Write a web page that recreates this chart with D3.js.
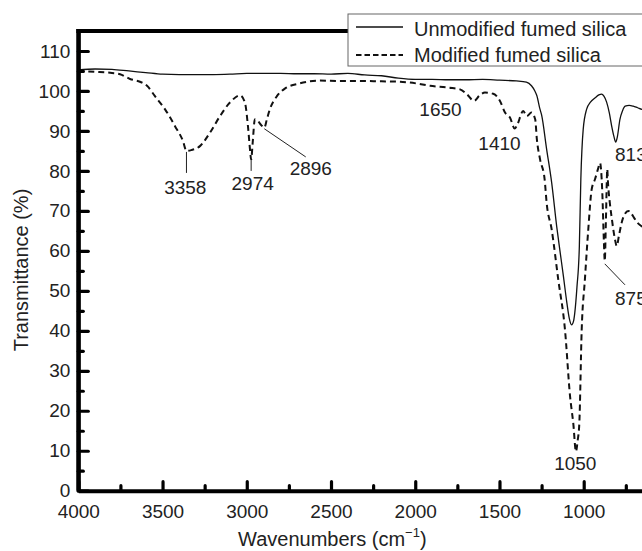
<!DOCTYPE html>
<html><head><meta charset="utf-8">
<script src="https://cdn.jsdelivr.net/npm/d3@7"></script>
<style>
html,body{margin:0;padding:0;background:#fff;}
svg{display:block;font-family:"Liberation Sans",Arial,sans-serif;}
</style></head>
<body><svg id="c" width="642" height="551"></svg>
<script>
// ---- Data (wavenumber cm-1, transmittance %) ----
const unmodWave = [4000,3900,3800,3700,3600,3500,3400,3300,3200,3100,3000,2900,2800,2700,2600,2500,2400,2300,2200,2100,2000,1900,1800,1700,1600,1500,1400,1340,1310,1290,1278,1260,1250,1220,1190,1160,1141,1120,1100,1085,1072,1060,1053,1040,1026,1017,1003,983,960,932,910,894,880,864,848,834,820,810,800,785,770,754,730,706,680,654,640];
const unmodT    = [105.3,105.5,105.4,105.0,104.6,104.2,104.1,104.1,104.1,104.2,104.4,104.4,104.4,104.3,104.3,104.2,104.4,104.0,103.8,103.2,102.9,102.9,102.8,102.8,102.9,102.7,102.5,102.2,101.3,100.0,98.8,95.5,94.0,85.4,77.0,66.0,60.0,53.5,47.0,43.0,41.5,42.5,44.5,51.0,61.0,78.0,90.4,95.4,97.2,98.3,99.0,99.2,98.7,97.2,94.5,91.2,88.5,87.2,88.6,92.9,95.0,96.2,96.4,96.2,95.8,95.4,95.2];

const modWave = [4000,3900,3800,3752,3693,3634,3592,3545,3485,3426,3379,3358,3330,3278,3218,3159,3100,3040,3011,2993,2980,2974,2965,2952,2935,2915,2896,2880,2863,2821,2774,2685,2566,2450,2330,2200,2090,2031,1912,1800,1734,1694,1650,1620,1586,1537,1497,1467,1437,1410,1395,1359,1338,1310,1288,1278,1259,1232,1220,1190,1151,1111,1081,1062,1046,1036,1026,1012,993,973,953,933,915,903,890,880,875,868,860,857,845,833,815,804,790,775,755,735,720,700,680,658,640];
const modT    = [105.0,104.8,104.5,104.2,103.0,102.3,101.3,98.7,95.4,91.2,87.5,85.0,85.2,86.2,89.6,93.7,97.1,98.9,97.1,91.2,85.0,82.8,87.0,92.9,92.5,91.5,90.8,93.0,95.4,98.7,100.6,101.9,102.6,102.5,102.5,102.4,102.3,102.1,101.3,100.8,100.4,99.2,97.5,98.8,99.6,99.3,97.5,94.6,93.3,90.6,91.5,95.0,93.7,94.6,92.9,87.9,82.9,77.9,72.0,65.3,52.8,40.2,23.6,16.9,9.8,12.5,16.9,40.2,52.8,65.3,75.3,77.9,80.5,82.0,75.0,62.0,57.5,68.0,80.4,77.9,72.0,68.0,63.0,61.2,64.0,67.0,69.3,70.0,69.5,68.2,67.0,66.2,65.5];

const xMajor = [4000,3500,3000,2500,2000,1500,1000];
const xMinor = [3750,3250,2750,2250,1750,1250,750];
const yMajor = [0,10,20,30,40,50,60,70,80,90,100,110];
const yMinor = [5,15,25,35,45,55,65,75,85,95,105];

const seriesNames = ["Unmodified fumed silica","Modified fumed silica"];

// peak labels: [text, wavenumber, T] anchor positions expressed in data units
const peakLabels = [
  {t:"3358", w:3358, v:85.0, lx:3358, lv:79.5, tw:3365, tv:74.3},
  {t:"2974", w:2974, v:82.8, lx:2974, lv:80.0, tw:2965, tv:75.3},
  {t:"2896", w:2896, v:90.8, lx:2650, lv:83.5, tw:2620, tv:79.0},
  {t:"1650", w:1650, v:null, tw:1850, tv:93.7},
  {t:"1410", w:1410, v:null, tw:1500, tv:85.2},
  {t:"813",  w:813,  v:null, tw:720,  tv:82.4},
  {t:"875",  w:875,  v:57.0, lx:755, lv:51.5, tw:720, tv:46.5},
  {t:"1050", w:1050, v:null, tw:1050, tv:5.2}
];

// ---- Layout ----
const svg = d3.select("#c");
const x = d3.scaleLinear().domain([4000,400]).range([78.3, 78.3+3600*0.16847]);
const y = d3.scaleLinear().domain([0,115]).range([490.7, 31]);

const unmod = unmodWave.map((w,i)=>({w, v:unmodT[i]}));
const mod = modWave.map((w,i)=>({w, v:modT[i]}));

const line = d3.line().x(d=>x(d.w)).y(d=>y(d.v)).curve(d3.curveMonotoneX);

const plot = svg.append("g");
plot.append("path").datum(unmod).attr("d", line)
  .attr("fill","none").attr("stroke","#111").attr("stroke-width",1.3);
plot.append("path").datum(mod).attr("d", line)
  .attr("fill","none").attr("stroke","#111").attr("stroke-width",2)
  .attr("stroke-dasharray","6,4");

// axes
const fs = 19;
const xAxis = d3.axisBottom(x).tickValues(xMajor).tickSize(-9).tickSizeOuter(0).tickPadding(14).tickFormat(d3.format("d"));
const gx = svg.append("g").attr("transform",`translate(0,${y(0)})`).call(xAxis);
const gxm = svg.append("g").attr("transform",`translate(0,${y(0)})`)
  .call(d3.axisBottom(x).tickValues(xMinor).tickSize(-5).tickSizeOuter(0).tickFormat(""));
gxm.select(".domain").remove();

const yAxis = d3.axisLeft(y).tickValues(yMajor).tickSize(-10).tickSizeOuter(0).tickPadding(8);
const gy = svg.append("g").attr("transform",`translate(${x(4000)},0)`).call(yAxis);
const gym = svg.append("g").attr("transform",`translate(${x(4000)},0)`)
  .call(d3.axisLeft(y).tickValues(yMinor).tickSize(-5).tickSizeOuter(0).tickFormat(""));
gym.select(".domain").remove();

svg.selectAll(".domain").attr("stroke","#000").attr("stroke-width",4);
svg.selectAll(".tick line").attr("stroke","#000").attr("stroke-width",3.2).attr("stroke-linecap","round");
svg.selectAll(".tick text").attr("font-size",fs).attr("fill","#222")
  .attr("font-family","'Liberation Sans',Arial,sans-serif");

// top frame line
svg.append("line").attr("x1",x(4000)-2).attr("x2",x(400)).attr("y1",y(115)).attr("y2",y(115))
  .attr("stroke","#000").attr("stroke-width",4);
// extend left axis to top
svg.append("line").attr("x1",x(4000)).attr("x2",x(4000)).attr("y1",y(115)-2).attr("y2",y(0))
  .attr("stroke","#000").attr("stroke-width",4);

// peak labels
peakLabels.forEach(p=>{
  if(p.v!==null && p.lx!==undefined){
    svg.append("line").attr("x1",x(p.w)).attr("y1",y(p.v)+1).attr("x2",x(p.lx)).attr("y2",y(p.lv))
      .attr("stroke","#222").attr("stroke-width",1);
  }
  svg.append("text").attr("x",x(p.tw)).attr("y",y(p.tv)).attr("text-anchor","middle")
    .attr("font-size",fs).attr("fill","#222").text(p.t);
});

// axis titles
const xt = svg.append("text").attr("x",238).attr("y",546).attr("font-size",20).attr("fill","#222");
xt.append("tspan").text("Wavenumbers (cm");
xt.append("tspan").attr("font-size",13).attr("dy",-9).text("\u22121");
xt.append("tspan").attr("dy",9).text(")");

svg.append("text").attr("transform","translate(28,270) rotate(-90)").attr("text-anchor","middle")
  .attr("font-size",20).attr("fill","#222").text("Transmittance (%)");

// legend
const lg = svg.append("g");
lg.append("rect").attr("x",348).attr("y",14).attr("width",400).attr("height",52)
  .attr("fill","#fff").attr("stroke","#666").attr("stroke-width",1);
lg.append("line").attr("x1",356).attr("x2",403).attr("y1",27).attr("y2",27)
  .attr("stroke","#111").attr("stroke-width",1.3);
lg.append("line").attr("x1",356).attr("x2",403).attr("y1",55).attr("y2",55)
  .attr("stroke","#111").attr("stroke-width",1.8).attr("stroke-dasharray","5.5,3");
lg.append("text").attr("x",414).attr("y",36).attr("font-size",20).attr("fill","#222").text(seriesNames[0]);
lg.append("text").attr("x",414).attr("y",62).attr("font-size",20).attr("fill","#222").text(seriesNames[1]);
</script></body></html>
